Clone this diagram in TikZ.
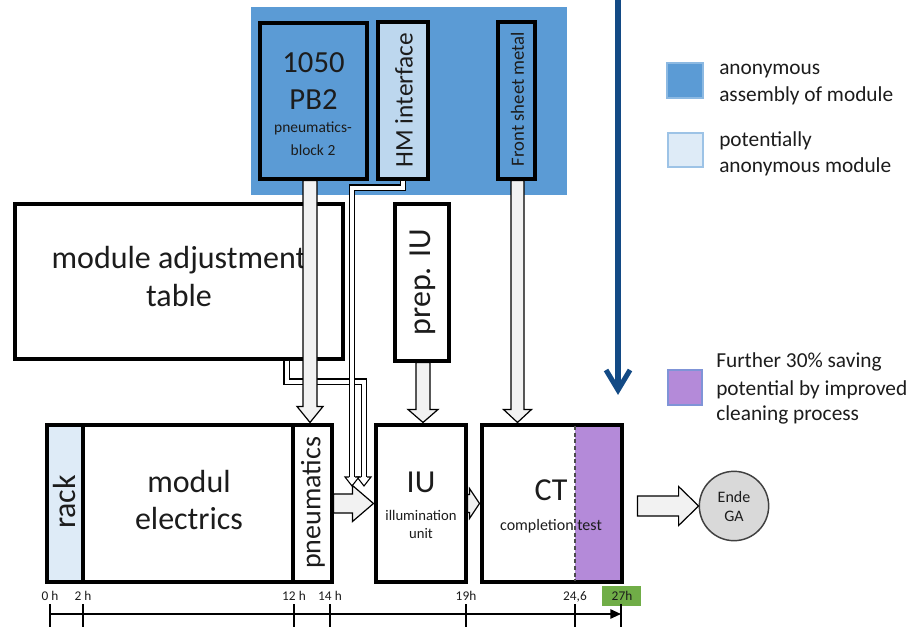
\documentclass[tikz,border=0pt]{standalone}
\usepackage{fontspec}
\setmainfont{Carlito}
\usetikzlibrary{calc,fit,arrows.meta}
\definecolor{blueA}{HTML}{5B9BD5}
\definecolor{blueL}{HTML}{BDD7EE}
\definecolor{blueXL}{HTML}{DEEBF7}
\definecolor{navy}{HTML}{134A85}
\definecolor{purp}{HTML}{B48AD9}
\definecolor{agray}{HTML}{F2F2F2}
\definecolor{cgray}{HTML}{D9D9D9}
\definecolor{greenA}{HTML}{70AD47}
\definecolor{txt}{HTML}{1C1C1C}
\newcommand\downblock[5]{\draw[barrow] ($(#1)+(-#3,0)$) -- ($(#2)+(-#3,-#5)$) -- ($(#2)+(-#4,-#5)$) -- (#2) -- ($(#2)+(#4,-#5)$) -- ($(#2)+(#3,-#5)$) -- ($(#1)+(#3,0)$) -- cycle;}
\newcommand\rightblock[5]{\draw[barrow] ($(#1)+(0,-#3)$) -- ($(#2)+(-#5,-#3)$) -- ($(#2)+(-#5,-#4)$) -- (#2) -- ($(#2)+(-#5,#4)$) -- ($(#2)+(-#5,#3)$) -- ($(#1)+(0,#3)$) -- cycle;}
\newcommand\thinhead[1]{\draw[thinhd] ($(#1)+(-3,-9)$) -- ($(#1)+(-7,-9)$) -- (#1) -- ($(#1)+(7,-9)$) -- ($(#1)+(3,-9)$);}
\begin{document}
\begin{tikzpicture}[x=0.75pt,y=-0.75pt,
  box/.style={draw=black, line width=2.3pt, inner sep=0pt},
  lbl/.style={text=txt, inner sep=0pt},
  barrow/.style={fill=agray, draw=black, line width=0.9pt, line join=miter},
  dline/.style={draw=black, line width=0.8pt, double=white, double distance=3pt},
  thinhd/.style={fill=white, draw=black, line width=0.8pt, line join=miter},
  fbig/.style={font=\fontsize{24pt}{29pt}\selectfont},
  fpb/.style={font=\fontsize{23pt}{28pt}\selectfont},
  fsmall/.style={font=\fontsize{11.6pt}{14pt}\selectfont},
  fhm/.style={font=\fontsize{19pt}{23pt}\selectfont},
  ffront/.style={font=\fontsize{14pt}{17pt}\selectfont},
  fpneu/.style={font=\fontsize{21pt}{25pt}\selectfont},
  fsub/.style={font=\fontsize{11pt}{13pt}\selectfont},
  fct/.style={font=\fontsize{12pt}{14pt}\selectfont},
  fleg/.style={font=\fontsize{16pt}{19pt}\selectfont},
  ftl/.style={font=\fontsize{10pt}{12pt}\selectfont},
  tick/.style={draw=black, line width=1.1pt},
]
\useasboundingbox (0,0) rectangle (917,627);

% blue background
\fill[blueA] (251,7) rectangle (567,195);

% navy arrow
\coordinate (navtop) at (618,0);
\coordinate (navtip) at (618,390);
\draw[navy, line width=3.8pt] (navtop) -- (navtip);
\draw[navy, line width=3.8pt, line join=miter] ($(navtip)+(-12,-20)$) -- (navtip) -- ($(navtip)+(12,-20)$);

% legend
\node[fill=blueA, draw=blueA!70!white, line width=0.8pt, inner sep=0pt, fit={(667,63) (703,98)}] (leg1) {};
\node[lbl, fleg, anchor=base west] (leg1a) at (719,75) {anonymous};
\node[lbl, fleg, anchor=base west] (leg1b) at (719,102) {assembly of module};
\node[fill=blueXL, draw=blueA!60!white, line width=0.8pt, inner sep=0pt, fit={(668,133) (703,167)}] (leg2) {};
\node[lbl, fleg, anchor=base west] (leg2a) at (719,147) {potentially};
\node[lbl, fleg, anchor=base west] (leg2b) at (719,173) {anonymous module};
\node[fill=purp, draw=blueA!60!purp, line width=0.8pt, inner sep=0pt, fit={(668,370) (702,405)}] (leg3) {};
\node[lbl, fleg, anchor=base west] (leg3a) at (716,367) {Further 30\% saving};
\node[lbl, fleg, anchor=base west] (leg3b) at (716,395) {potential by improved};
\node[lbl, fleg, anchor=base west] (leg3c) at (716,420) {cleaning process};

% module adjustment table
\node[box, fill=white, fit={(15,204) (343,359)}] (mat) {};
\node[lbl, fbig, anchor=base] (mat1) at (179,268) {module adjustment};
\node[lbl, fbig, anchor=base] (mat2) at (179,306) {table};

% prep IU
\node[box, fill=white, fit={(395,204) (449,361)}] (prep) {};
\node[lbl, fbig, rotate=90] (preptxt) at (423,282) {prep. IU};

% bottom row boxes
\node[box, fill=blueXL, fit={(47,425) (83,582)}] (rack) {};
\node[box, fill=white, fit={(83,425) (293,582)}] (elec) {};
\node[box, fill=white, fit={(293,425) (332,582)}] (pneu) {};
\node[box, fill=white, fit={(376,425) (466,582)}] (iu) {};
\fill[purp] (575,425) rectangle (622,582);
\node[box, fit={(482,425) (622,582)}] (ct) {};
\draw[densely dashed, line width=0.8pt, draw=black!70] (575,426) -- (575,581);

\node[lbl, fbig, rotate=90] (racktxt) at (65,502) {rack};
\node[lbl, fbig, anchor=base] (el1) at (189,492) {modul};
\node[lbl, fbig, anchor=base] (el2) at (189,529) {electrics};
\node[lbl, fpneu, rotate=90] (pneutxt) at (313,503) {pneumatics};
\node[lbl, fbig, anchor=base] (iu1) at (421,492) {IU};
\node[lbl, fsub, anchor=base] (iu2) at (421,520) {illumination};
\node[lbl, fsub, anchor=base] (iu3) at (421,538) {unit};
\node[lbl, fbig, anchor=base] (ct1) at (551,500) {CT};
\node[lbl, fct, anchor=base] (ct2) at (551,530) {completion test};

% Ende GA
\node[circle, fill=cgray, draw=black!75, line width=1.1pt, minimum size=52pt, inner sep=0pt] (ende) at (734,506) {};
\node[lbl, fct, anchor=base] (ende1) at (734,502) {Ende};
\node[lbl, fct, anchor=base] (ende2) at (734,521) {GA};

% top boxes
\node[box, fill=blueA, fit={(260,23) (367,179)}] (pb2) {};
\node[box, fill=blueL, fit={(378,22) (428,179)}] (hm) {};
\node[box, fill=blueA, fit={(498,22) (535,179)}] (front) {};

% thin double-line arrows
\coordinate (mats) at ($(mat.south east)+(-58,0)$);
\coordinate (mattip) at (364,486);
\coordinate (hmtip) at (352,486);
\draw[dline] (mats) -- ++(0,21) -| ($(mattip)+(0,-9)$);
\thinhead{mattip}
\draw[dline] (hm.south) -- ++(0,7) -| ($(hmtip)+(0,-9)$);
\thinhead{hmtip}

% block arrows
\coordinate (a1s) at ($(pb2.south)+(-3.5,0)$);
\coordinate (a1e) at ($(a1s |- pneu.north)+(0,-1)$);
\downblock{a1s}{a1e}{7}{13}{16}
\coordinate (a2s) at ($(prep.south)+(1,0)$);
\coordinate (a2e) at ($(a2s |- iu.north)+(0,-1)$);
\downblock{a2s}{a2e}{7}{15}{13}
\coordinate (a3s) at ($(front.south)+(1,0)$);
\coordinate (a3e) at ($(a3s |- ct.north)+(0,-1)$);
\downblock{a3s}{a3e}{6.5}{14}{13}
\coordinate (a4s) at (pneu.east);
\coordinate (a4e) at ($(pneu.east -| iu.west)+(-1,0)$);
\rightblock{a4s}{a4e}{9.5}{18}{21}
\coordinate (a5s) at (iu.east);
\coordinate (a5e) at ($(iu.east -| ct.west)+(-1,0)$);
\rightblock{a5s}{a5e}{9}{15}{10}
\coordinate (a6s) at ($(ct.east)+(14,2.5)$);
\coordinate (a6e) at (a6s -| ende.west);
\rightblock{a6s}{a6e}{10}{19.5}{20}

% redraw top box texts
\node[lbl, fpb, anchor=base] (t1050) at (313.5,73) {1050};
\node[lbl, fpb, anchor=base] (tpb2) at (313.5,110) {PB2};
\node[lbl, fsmall, anchor=base] (tpn) at (313,133) {pneumatics-};
\node[lbl, fsmall, anchor=base] (tbl) at (313,156) {block 2};
\node[lbl, fhm, rotate=90] (hmtxt) at (404,100) {HM interface};
\node[lbl, ffront, rotate=90] (fronttxt) at (517.5,99) {Front sheet metal};

% timeline
\fill[greenA] (602,586) rectangle (641,606);
\coordinate (tls) at (50,614);
\coordinate (tle) at (621,614);
\draw[line width=1.3pt, -{Triangle[length=8pt,width=7pt]}] (tls) -- (tle);
\foreach \xx/\lab [count=\i] in {50/0 h, 83/2 h, 294/12 h, 330/14 h, 466/19h, 575/{24,6}} {
  \draw[tick] (\xx,604) -- (\xx,627);
  \node[lbl, ftl, anchor=base] (tl\i) at (\xx,600) {\lab};
}
\draw[tick] (621,604) -- (621,627);
\node[lbl, ftl, anchor=base] (tl7) at (622,600) {27h};
\end{tikzpicture}
\end{document}
